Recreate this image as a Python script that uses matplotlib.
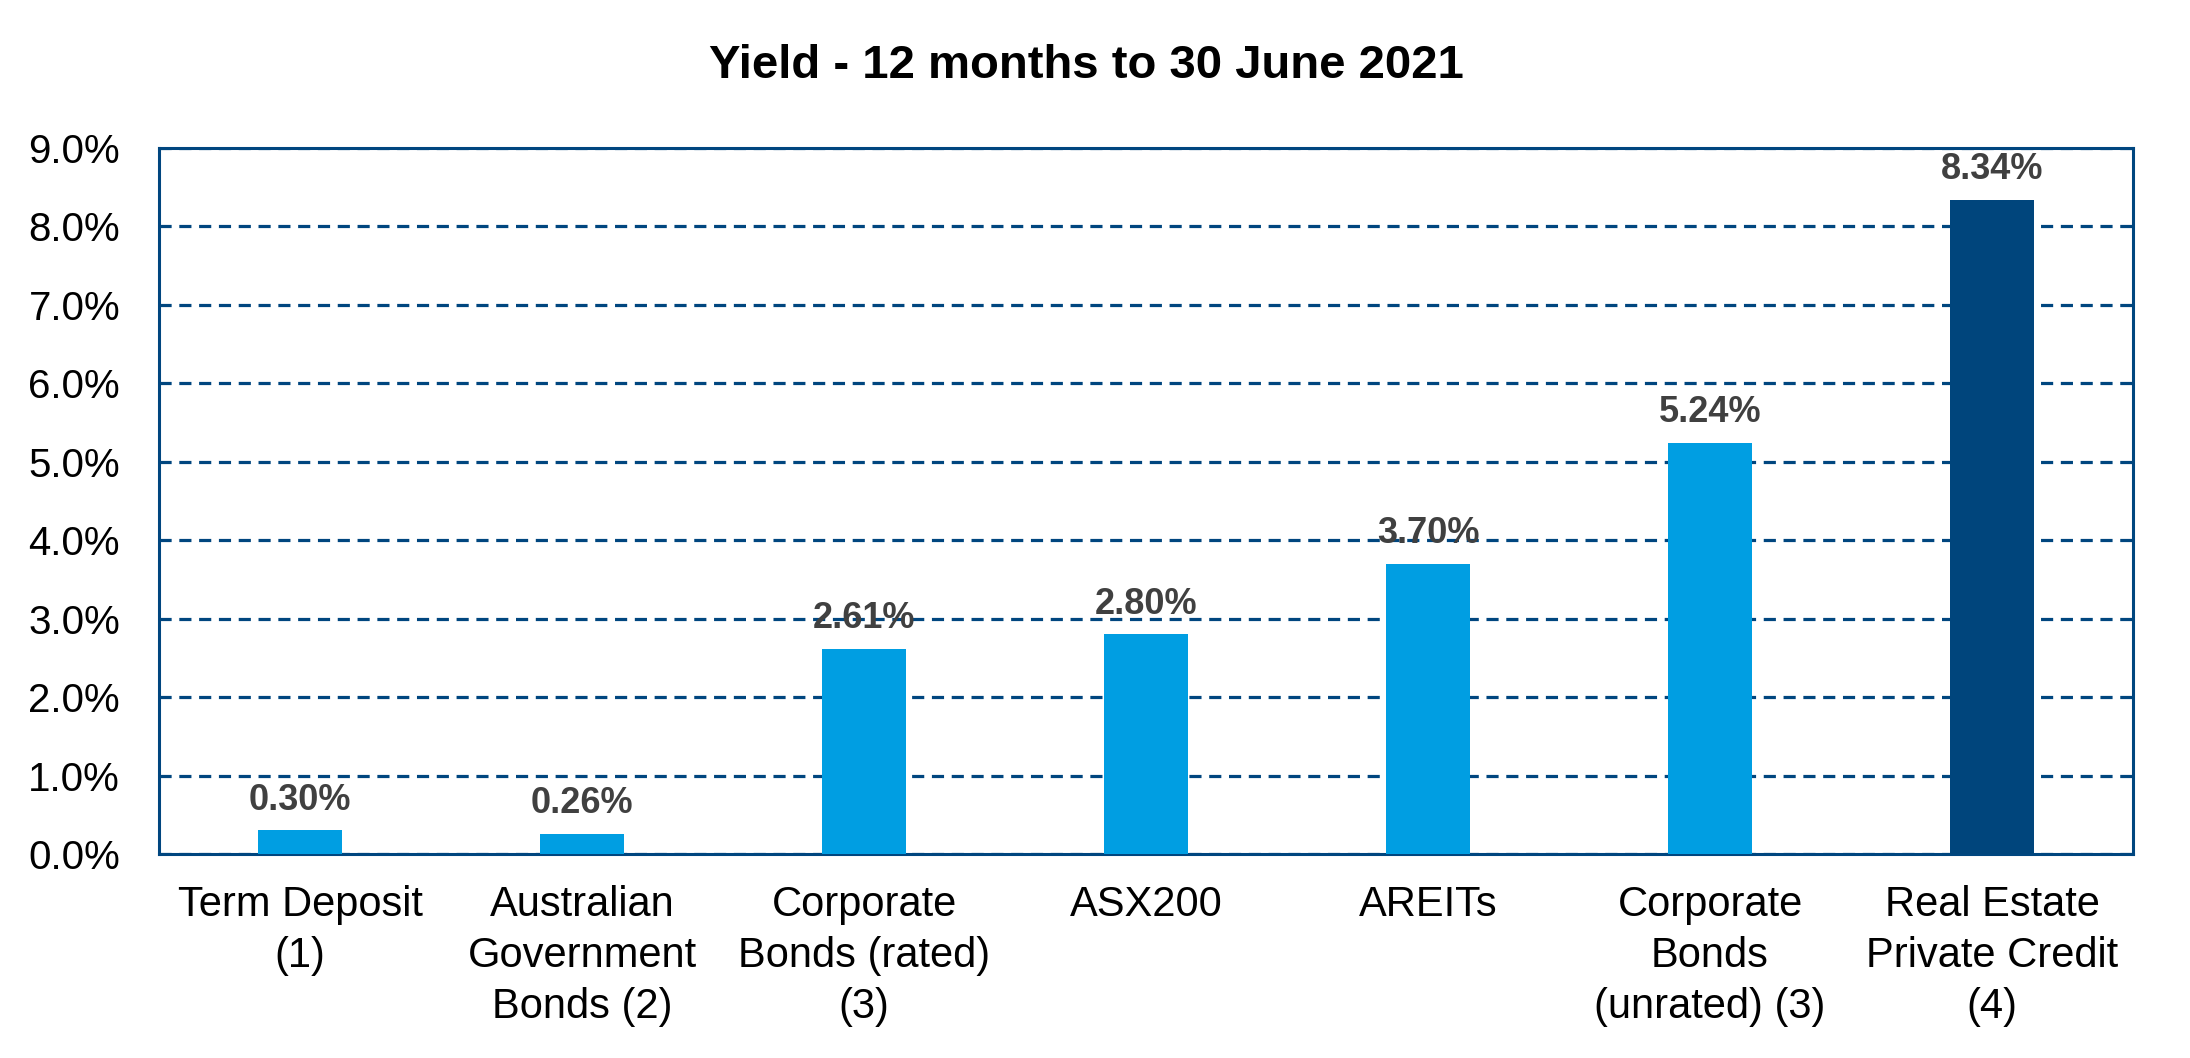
import numpy as np
from matplotlib import pyplot as plt
from matplotlib.ticker import FuncFormatter

# data
categories = ["Term Deposit\n(1)", "Australian\nGovernment\nBonds (2)",
              "Corporate\nBonds (rated)\n(3)", "ASX200", "AREITs",
              "Corporate\nBonds\n(unrated) (3)", "Real Estate\nPrivate Credit\n(4)"]
yields = [0.30, 0.26, 2.61, 2.80, 3.70, 5.24, 8.34]
highlight = [False, False, False, False, False, False, True]
yticks = [0, 1, 2, 3, 4, 5, 6, 7, 8, 9]

navy = "#00467F"
light = "#009EE2"
dark = "#00457C"

plt.rcParams['font.family'] = ['Liberation Sans', 'DejaVu Sans']

fig = plt.figure(figsize=(21.9, 10.58), dpi=100)
ax = fig.add_axes([0.0726, 0.1928, 0.9014, 0.6673])

x = np.arange(len(categories))
colors = [dark if h else light for h in highlight]
bars = ax.bar(x, yields, width=0.30, color=colors, zorder=3)

for b, v in zip(bars, yields):
    ax.annotate(f"{v:.2f}%", (b.get_x() + b.get_width() / 2, v),
                xytext=(0, 15), textcoords="offset points",
                ha="center", va="baseline", fontsize=26,
                fontweight="bold", color="#404040")

ax.set_xlim(-0.5, len(categories) - 0.5)
ax.set_ylim(0, 9)
ax.set_yticks(yticks)
ax.yaxis.set_major_formatter(FuncFormatter(lambda v, p: f"{v:.1f}%"))
ax.set_xticks(x)
ax.set_xticklabels(categories, linespacing=1.36)
ax.tick_params(axis="y", length=0, pad=28, labelsize=29)
ax.tick_params(axis="x", length=0, pad=22, labelsize=30)

ax.set_axisbelow(True)
ax.yaxis.grid(True, color=navy, linewidth=2.3, linestyle=(0, (3.8, 2.4)))
for s in ax.spines.values():
    s.set_color(navy)
    s.set_linewidth(2.2)

fig.text(0.496, 1 - 78 / 1058, "Yield - 12 months to 30 June 2021",
         ha="center", va="baseline", fontsize=34, fontweight="bold")

fig.savefig("out.png", dpi=100)
